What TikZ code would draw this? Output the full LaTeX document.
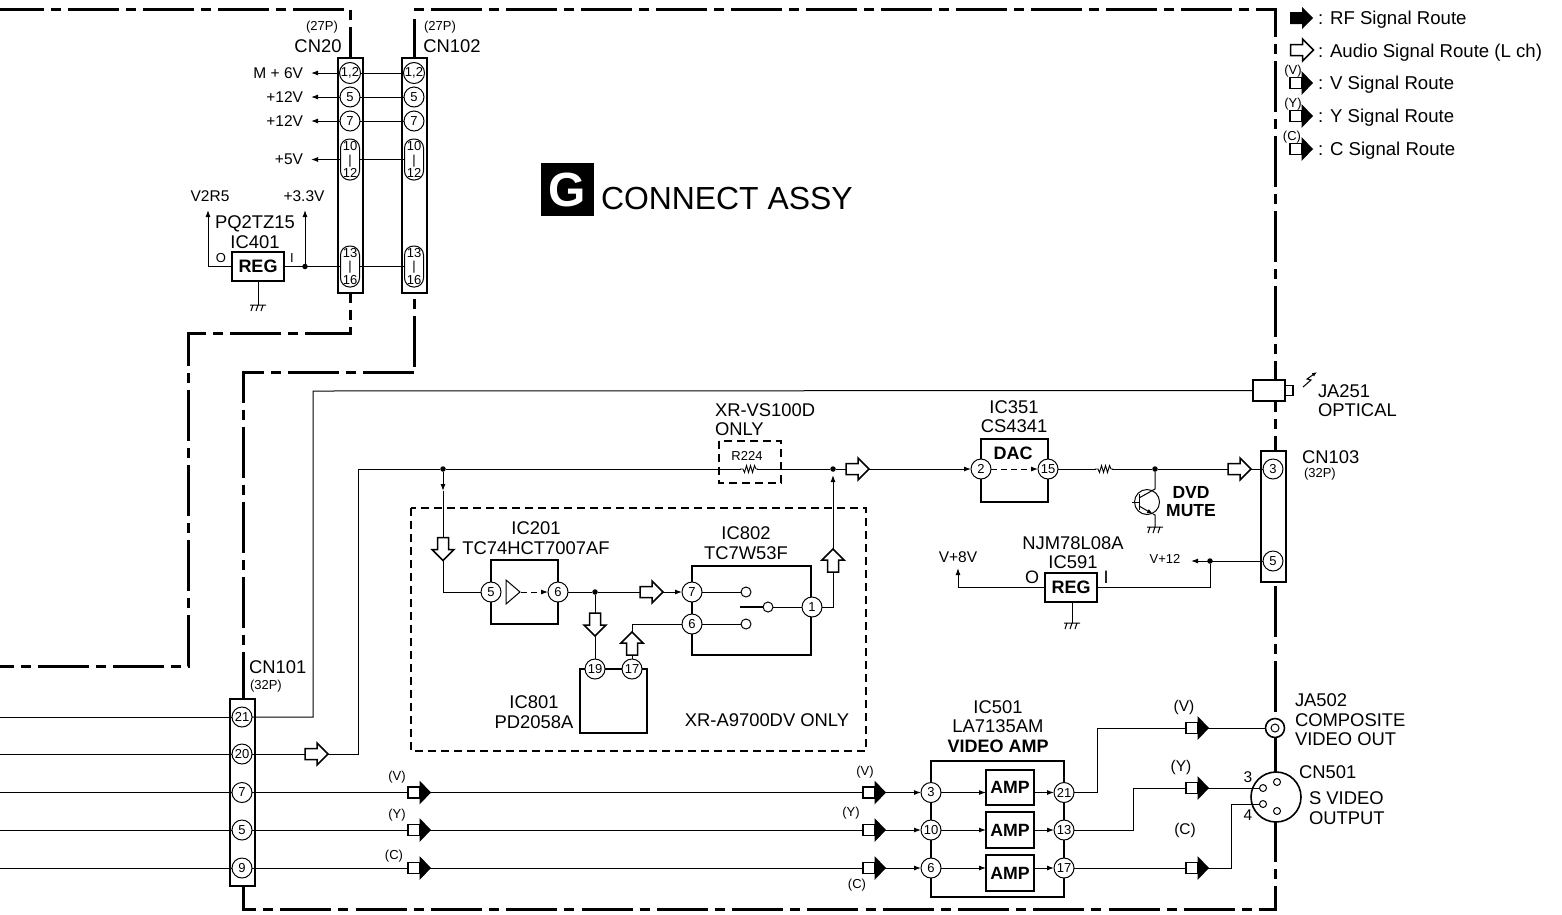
\documentclass[tikz,border=0pt]{standalone}
\usepackage{fontspec}
\setmainfont{Liberation Sans}
\usetikzlibrary{arrows.meta}
\tikzset{
  x=1pt,y=-1pt,
  every node/.style={inner sep=0pt,outer sep=0pt},
  frameline/.style={line width=3pt,line join=miter,dash pattern=on 51pt off 7pt on 10pt off 7pt},
  optbox/.style={line width=2.2pt,dash pattern=on 8pt off 5pt},
  wire/.style={line width=1pt,line join=miter},
  tip/.style={wire,-{Latex[length=7pt,width=5pt]}},
  dashtip/.style={wire,dashed,dash pattern=on 6pt off 4pt,-{Latex[length=7pt,width=5pt]}},
  box/.style={draw,line width=2pt,fill=white},
  conn/.style={draw,line width=1.6pt,fill=white,minimum width=25pt},
  pinc/.style={circle,draw,line width=1pt,fill=white,minimum size=20pt,font=\fontsize{13}{13}\selectfont},
  pinl/.style={draw,line width=1pt,fill=white,minimum width=19pt,minimum height=41pt,rounded corners=9pt,align=center,font=\fontsize{13}{13.5}\selectfont},
  dotn/.style={circle,fill=black,minimum size=5.5pt},
  big/.style={font=\fontsize{18.4}{19.4}\selectfont,align=center},
  bigb/.style={font=\bfseries\fontsize{18}{19}\selectfont,align=center},
  mid/.style={font=\fontsize{15.5}{16}\selectfont},
  sml/.style={font=\fontsize{13}{13}\selectfont},
  volt/.style={mid,outer xsep=8pt},
  pics/openarrow/.style={code={\draw[line width=1.5pt,fill=white,line join=miter]
     (-12,-5.5)--(0,-5.5)--(0,-11)--(11,0)--(0,11)--(0,5.5)--(-12,5.5)--cycle;}},
  pics/rfarrow/.style={code={\fill (-12,-6)--(0,-6)--(0,-11)--(11,0)--(0,11)--(0,6)--(-12,6)--cycle;}},
  pics/sigarrow/.style={code={\draw[line width=1.4pt,fill=white] (-12,-5.5) rectangle (0,5.5);
     \fill (-0.5,-12)--(11,0)--(-0.5,12)--cycle;}},
  pics/gnd/.style={code={\draw[line width=1pt] (-8,0)--(8,0) (-5,0)--(-7,6) (0,0)--(-2,6) (5,0)--(3,6);}},
  pics/resist/.style={code={\fill[white] (-8,-4) rectangle (8,4);
     \draw[line width=0.9pt] (-9,0)--(-6,0)--(-4.5,3.5)--(-2.5,-3.5)--(-0.5,3.5)--(1.5,-3.5)--(3.5,3.5)--(5.5,-3.5)--(7,0)--(9,0);}},
}
\begin{document}
\begin{tikzpicture}
\useasboundingbox (0,0) rectangle (1562,914);
% ---- outer board outline, each run with the dash phase of the reference
\draw[frameline,dash phase=7pt] (0,9) -- (348,9);
\draw[frameline,dash phase=20pt] (350,58) -- (350,8);
\draw[frameline,dash phase=12pt] (414,58) -- (414,16);
\draw[frameline,dash phase=58pt] (414,9) -- (1276.5,9);
\draw[frameline,dash phase=23pt] (1275,9) -- (1275,909);
\draw[frameline,dash phase=15pt,dash pattern=on 51pt off 7.15pt on 10pt off 7.15pt] (243,886) -- (243,909) -- (1276.5,909);
\draw[frameline] (414,372.5) -- (243,372.5) -- (243,700);
\draw[frameline] (414,367) -- (414,293);
\draw[frameline,dash phase=41pt] (350,293) -- (350,333) -- (188,333) -- (188,666) -- (0,666);
\draw[optbox] (411,508) rectangle (866,751);
\draw[optbox] (719,441) rectangle (781,483);

% ---- connectors
\node[conn,minimum height=235pt] (cn20) at (350.5,175.5) {};
\node[conn,minimum height=235pt] (cn102) at (414.5,175.5) {};
\node[conn,minimum height=187pt] (cn101) at (242.5,792.5) {};
\node[conn,minimum height=131pt] (cn103) at (1273.5,516.5) {};

\foreach \n/\y/\t in {a/73/{1,2},b/97/5,c/121/7}{
  \node[pinc] (cn20\n) at (350,\y) {\t};
  \node[pinc] (cn102\n) at (414,\y) {\t};
}
\node[pinl] (cn20d) at (350,159.5) {10\\|\\12};
\node[pinl] (cn102d) at (414,159.5) {10\\|\\12};
\node[pinl] (cn20e) at (350,266.5) {13\\|\\16};
\node[pinl] (cn102e) at (414,266.5) {13\\|\\16};
\foreach \n in {a,b,c,d,e} \draw[wire] (cn20\n) -- (cn102\n);

\node[pinc] (p21) at (242,717) {21};
\node[pinc] (p20) at (242,754) {20};
\node[pinc] (p7) at (242,792.5) {7};
\node[pinc] (p5) at (242,830) {5};
\node[pinc] (p9) at (242,868) {9};
\node[pinc] (cn103a) at (1273,469) {3};
\node[pinc] (cn103b) at (1273,561) {5};

\foreach \n/\y in {21/717,20/754,7/792.5,5/830,9/868}{
  \coordinate (left\n) at (0,\y);
  \draw[wire] (left\n) -- (p\n);
}

% ---- labels on top part
\node[big] (lcn20) at (318,46) {CN20};
\node[sml] (l27a) at (322,27) {(27P)};
\node[big] (lcn102) at (452,46) {CN102};
\node[sml] (l27b) at (440,27) {(27P)};
\node[volt,anchor=east] (vm6) at (311,73) {M + 6V};
\node[volt,anchor=east] (v12a) at (311,97) {+12V};
\node[volt,anchor=east] (v12b) at (311,121) {+12V};
\node[volt,anchor=east] (v5) at (311,159.5) {+5V};
\draw[tip] (cn20a) -- (vm6);
\draw[tip] (cn20b) -- (v12a);
\draw[tip] (cn20c) -- (v12b);
\draw[tip] (cn20d) -- (v5);

\node[mid] (v2r5) at (210,196) {V2R5};
\node[mid] (v33) at (304,196) {+3.3V};
\node[big] (lic401) at (255,232) {PQ2TZ15\\IC401};
\node[box] (ic401) at (258,266.5) [minimum width=52pt,minimum height=29pt,font=\bfseries\fontsize{18}{18}\selectfont] {REG};
\node[dotn] (d401) at (305,266.5) {};
\coordinate (v2tip) at (208,210);
\coordinate (v3tip) at (305,210);
\coordinate (g401) at (258,305);
\draw[tip] (ic401.west) -| (v2tip);
\draw[wire] (ic401.east) -- (cn20e);
\draw[tip] (d401) -- (v3tip);
\draw[wire] (ic401.south) -- (g401);
\pic at (g401) {gnd};
\node[sml] (lo401) at (221,258) {O};
\node[sml] (li401) at (292,258) {I};

% ---- title
\node[fill=black,minimum width=53pt,minimum height=53pt,text=white,font=\bfseries\fontsize{48}{48}\selectfont] (gbadge) at (567.5,189.5) {G};
\node[anchor=west,font=\fontsize{31.9}{32}\selectfont] (ttl) at (601,199) {CONNECT ASSY};

% ---- legend
\pic at (1302,18) {rfarrow};
\pic at (1302.5,50) {openarrow};
\pic at (1302,83) {sigarrow};
\pic at (1302,116) {sigarrow};
\pic at (1302,149) {sigarrow};
\node[font=\fontsize{18.6}{19}\selectfont,anchor=west] (lg1) at (1318,20) {: RF Signal Route};
\node[font=\fontsize{18.6}{19}\selectfont,anchor=west] (lg2) at (1318,53) {: Audio Signal Route (L ch)};
\node[font=\fontsize{18.6}{19}\selectfont,anchor=west] (lg3) at (1318,85) {: V Signal Route};
\node[font=\fontsize{18.6}{19}\selectfont,anchor=west] (lg4) at (1318,118) {: Y Signal Route};
\node[font=\fontsize{18.6}{19}\selectfont,anchor=west] (lg5) at (1318,151) {: C Signal Route};
\node[sml] (lgv) at (1293,71) {(V)};
\node[sml] (lgy) at (1293,104) {(Y)};
\node[sml] (lgc) at (1292,137) {(C)};

% ---- optical
\node[draw,line width=1.6pt,fill=white,minimum width=32pt,minimum height=21pt] (ja251) at (1269,390.5) {};
\node[draw,line width=1.4pt,fill=white,minimum width=8pt,minimum height=10pt,anchor=west] (ja251b) at (ja251.east) {};
\coordinate (opt) at (313,391);
\draw[wire] (p21) -| (opt) -- (ja251.west);
\draw[wire,-{Latex[length=5pt,width=4pt]}] (1303,387) -- (1311,380) -- (1307,379) -- (1317,372);
\node[big,anchor=west,align=left] (lja251) at (1318,400.5) {JA251\\OPTICAL};

% ---- audio line
\node[dotn] (da) at (443,469) {};
\node[dotn] (db) at (833,469) {};
\node[box] (dac) at (1014.5,470.5) [minimum width=67pt,minimum height=63pt] {};
\node[pinc] (dac2) at (981,469) {2};
\node[pinc] (dac15) at (1048,469) {15};
\node[bigb,inner sep=0] (ldac) at (1013,453) {DAC};
\node[big] (lic351) at (1014,416.5) {IC351\\CS4341};
\node[dotn] (dc) at (1155,469) {};
\coordinate (au1) at (358,754);
\coordinate (au2) at (358,469);
\draw[wire] (p20) -- (au1) -- (au2) -- (da);
\draw[wire] (da) -- (db);
\draw[tip] (db) -- (dac2);
\draw[dashtip] (dac2) -- (dac15);
\draw[wire] (dac15) -- (dc);
\draw[wire] (dc) -- (cn103a);
\pic at (317,754) {openarrow};
\pic at (858,469) {openarrow};
\pic at (1240,469) {openarrow};
\pic at (749,469) {resist};
\pic at (1104,469) {resist};
\node[sml] (lr224) at (747,456) {R224};
\node[big,anchor=west,align=left] (lxr) at (715,419.5) {XR-VS100D\\ONLY};
\node[big,anchor=west] (lcn103) at (1302,457) {CN103};
\node[sml,anchor=west] (l32b) at (1304,474) {(32P)};
\node[big,anchor=west] (lcn101) at (249,667) {CN101};
\node[sml,anchor=west] (l32a) at (250,686) {(32P)};

% ---- transistor
\node[circle,draw,line width=1pt,minimum size=25pt] (q) at (1147,502) {};
\draw[wire] (1139,494) -- (1139,510) (1132,502) -- (1139,502);
\coordinate (qg) at (1155,527);
\draw[wire] (1139,498) -- (1155,489) -- (dc);
\draw[wire,-{Latex[length=6pt,width=4.5pt]}] (1139,506) -- (1153,514);
\draw[wire] (1153,514) -- (1155,515) -- (qg);
\pic at (qg) {gnd};
\node[font=\bfseries\fontsize{17.5}{18}\selectfont,align=center] (lmute) at (1191,502) {DVD\\MUTE};

% ---- IC591
\node[big] (lic591) at (1073,552.5) {NJM78L08A\\IC591};
\node[box] (ic591) at (1071,587.5) [minimum width=52pt,minimum height=29pt,font=\bfseries\fontsize{18}{18}\selectfont] {REG};
\node[mid] (v8) at (958,557) {V+8V};
\node[sml] (v12c) at (1165,559) {V+12};
\node[dotn] (dv12) at (1210,561) {};
\coordinate (v8tip) at (958,568);
\coordinate (v12tip) at (1191,561);
\coordinate (g591) at (1072,623);
\draw[tip] (cn103b) -- (v12tip);
\draw[wire] (dv12) |- (ic591.east);
\draw[tip] (ic591.west) -| (v8tip);
\draw[wire] (ic591.south -| g591) -- (g591);
\pic at (g591) {gnd};
\node[font=\fontsize{18}{18}\selectfont] (lo591) at (1032,577) {O};
\node[font=\fontsize{18}{18}\selectfont] (li591) at (1106,577) {I};

% ---- optional block
\node[box] (ic201) at (524.5,592) [minimum width=67pt,minimum height=64pt] {};
\node[pinc] (a5) at (491,592) {5};
\node[pinc] (a6) at (558,592) {6};
\node[big] (lic201) at (536,538) {IC201\\TC74HCT7007AF};
\draw[line width=1pt,fill=white] (506,580) -- (520,592) -- (506,604) -- cycle;
\coordinate (tria) at (521,592);
\draw[dashtip] (tria) -- (a6);
\node[box] (ic802) at (751.5,610.5) [minimum width=119pt,minimum height=89pt] {};
\node[pinc] (b7) at (692,592) {7};
\node[pinc] (b6) at (692,624) {6};
\node[pinc] (b1) at (812,607) {1};
\node[big] (lic802) at (746,543) {IC802\\TC7W53F};
\node[circle,draw,line width=1pt,minimum size=10pt] (s1) at (746,592) {};
\node[circle,draw,line width=1pt,minimum size=10pt] (s2) at (746,624) {};
\node[circle,draw,line width=1pt,minimum size=10pt] (s3) at (768,607) {};
\coordinate (bar) at (740,607);
\draw[line width=2pt] (bar) -- (s3);
\draw[wire] (b7) -- (s1);
\draw[wire] (b6) -- (s2);
\draw[wire] (s3) -- (b1);
\node[box] (ic801) at (613.5,701) [minimum width=67pt,minimum height=64pt] {};
\node[pinc] (c19) at (595,669) {19};
\node[pinc] (c17) at (632,669) {17};
\node[big] (lic801) at (534,712) {IC801\\PD2058A};
\node[big] (lonly) at (767,720) {XR-A9700DV ONLY};
\node[dotn] (dd) at (595,592) {};
\coordinate (tipa) at (443,491);
\coordinate (tipb) at (833,475);
\coordinate (upb) at (833,520);
\draw[tip] (da) -- (tipa);
\draw[wire] (tipa) |- (a5);
\draw[wire] (a6) -- (dd);
\draw[tip] (dd) -- (b7);
\draw[wire] (dd) -- (c19);
\draw[wire] (c17) |- (b6);
\draw[wire] (b1) -| (upb);
\draw[tip] (upb) -- (tipb);
\pic[rotate=-90] at (443,549.5) {openarrow};
\pic at (652,592) {openarrow};
\pic[rotate=90] at (833,560) {openarrow};
\pic[rotate=-90] at (595,625) {openarrow};
\pic[rotate=90] at (632,643) {openarrow};

% ---- video amp
\node[box] (ic501) at (997.5,829) [minimum width=133pt,minimum height=136pt] {};
\node[big] (lic501a) at (998,716.5) {IC501\\LA7135AM};
\node[bigb] (lic501b) at (998,746) {VIDEO AMP};
\foreach \n/\y/\l/\r/\c in {1/792.5/3/21/787.5,2/830/10/13/830,3/868/6/17/873}{
  \node[pinc] (vi\n) at (931,\y) {\l};
  \node[pinc] (vo\n) at (1064,\y) {\r};
  \node[draw,line width=1.6pt,fill=white,minimum width=48pt,minimum height=35.5pt,font=\bfseries\fontsize{17.7}{18}\selectfont] (amp\n) at (1010,\c) {AMP};
  \draw[tip] (vi\n) -- (vi\n -| amp\n.west);
  \draw[tip] (vo\n -| amp\n.east) -- (vo\n);
}
\draw[tip] (p7) -- (vi1);
\draw[tip] (p5) -- (vi2);
\draw[tip] (p9) -- (vi3);
\foreach \y in {792.5,830,868}{
  \pic at (420,\y) {sigarrow};
  \pic at (875,\y) {sigarrow};
}
\node[sml] (lv1) at (397,777) {(V)};
\node[sml] (ly1) at (397,815) {(Y)};
\node[sml] (lc1) at (394,856) {(C)};
\node[sml] (lv2) at (865,772) {(V)};
\node[sml] (ly2) at (851,813) {(Y)};
\node[sml] (lc2) at (857,885) {(C)};

% ---- outputs
\node[circle,draw,line width=1.6pt,fill=white,minimum size=19pt] (ja502) at (1275,728) {};
\node[circle,draw,line width=1pt,minimum size=8pt] (ja502i) at (1275,728) {};
\node[circle,draw,line width=1.6pt,fill=white,minimum size=50pt] (cn501) at (1276,797) {};
\node[circle,draw,line width=1pt,minimum size=7pt] (s3p) at (1263,788) {};
\node[circle,draw,line width=1pt,minimum size=7pt] (s4p) at (1263,804) {};
\node[circle,draw,line width=1pt,minimum size=7pt] (s1p) at (1277,782) {};
\node[circle,draw,line width=1pt,minimum size=7pt] (s2p) at (1277,811) {};
\coordinate (bv) at (1097,728);
\coordinate (by) at (1133,788);
\coordinate (bc) at (1231,804);
\draw[wire] (vo1) -| (bv) -- (ja502);
\draw[wire] (vo2) -| (by) -- (s3p);
\draw[wire] (vo3) -| (bc) -- (s4p);
\pic at (1198,728) {sigarrow};
\pic at (1198,788) {sigarrow};
\pic at (1198,868) {sigarrow};
\node[mid] (lv3) at (1184,707) {(V)};
\node[mid] (ly3) at (1181,767) {(Y)};
\node[mid] (lc3) at (1185,830) {(C)};
\node[big,anchor=west,align=left] (lja502) at (1295,720) {JA502\\COMPOSITE\\VIDEO OUT};
\node[big,anchor=west] (lcn501) at (1299,772) {CN501};
\node[big,anchor=west,align=left] (lsv) at (1309,808) {S VIDEO\\OUTPUT};
\node[mid] (ln3) at (1248,777) {3};
\node[mid] (ln4) at (1248,815) {4};
\end{tikzpicture}
\end{document}
